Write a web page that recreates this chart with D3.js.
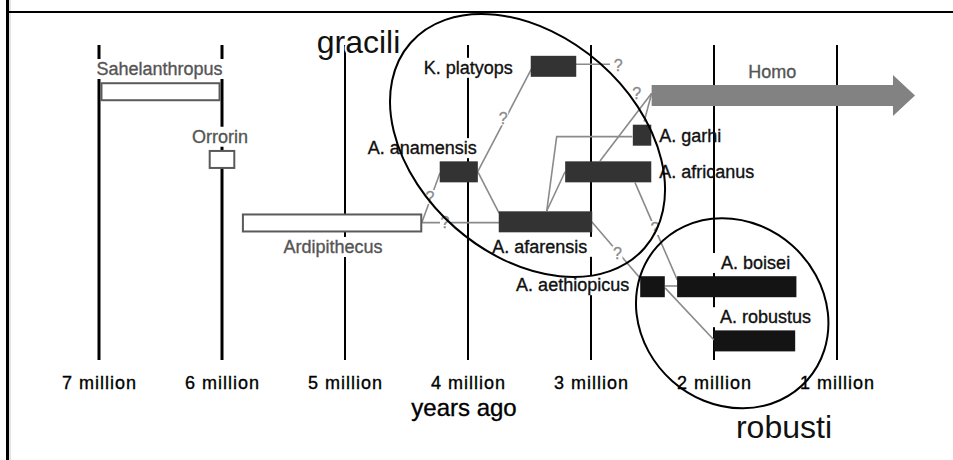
<!DOCTYPE html>
<html>
<head>
<meta charset="utf-8">
<script src="https://cdn.jsdelivr.net/npm/d3@7"></script>
<style>
  body { margin: 0; background: #fff; }
  svg { display: block; }
  text { font-family: "Liberation Sans", Arial, sans-serif; }
</style>
</head>
<body>
<svg id="chart" width="953" height="460"></svg>
<script>
// ---------------- DATA ----------------
// time axis (millions of years ago)
const tickAges   = [7, 6, 5, 4, 3, 2, 1];
const tickLabels = ["7 million", "6 million", "5 million", "4 million", "3 million", "2 million", "1 million"];
const axisTitle  = "years ago";

// taxa: oldest and youngest appearance (Ma) and the chart row they sit in
const taxonNames = ["Sahelanthropus", "Orrorin", "Ardipithecus", "K. platyops", "A. anamensis",
                    "A. afarensis", "A. garhi", "A. africanus", "A. aethiopicus", "A. boisei", "A. robustus"];
const taxonFirst = [6.98, 6.10, 5.83, 3.49, 4.23, 3.75, 2.66, 3.21, 2.60, 2.30, 2.00];
const taxonLast  = [6.02, 5.90, 4.38, 3.12, 3.92, 2.99, 2.51, 2.51, 2.40, 1.33, 1.34];
const taxonRow   = [4.45, 10.90, 16.95, 2.03, 12.08, 16.84, 8.59, 12.08, 23.02, 23.02, 28.18];
const taxonKind  = ["early", "early", "early", "gracile", "gracile", "gracile", "gracile", "gracile",
                    "robust", "robust", "robust"];

// Homo: start (Ma), arrow continues toward the present
const homoName  = "Homo";
const homoFirst = 2.507;
const homoShaftEnd = 0.545;
const homoTip   = 0.366;
const homoRow   = 4.81;

// proposed ancestor-descendant links, as [age, row] points
const lineageLinks = [
  [[4.376, 16.92], [4.228, 12.19]],                 // Ardipithecus -> A. anamensis
  [[4.376, 16.92], [3.746, 16.92]],                 // Ardipithecus -> A. afarensis
  [[3.921, 12.07], [3.482, 2.22]],                  // A. anamensis -> K. platyops
  [[3.921, 12.07], [3.746, 16.03]],                 // A. anamensis -> A. afarensis
  [[3.124, 1.84],  [2.846, 1.84]],                  // K. platyops -> ?
  [[3.360, 15.81], [3.279, 8.73], [2.664, 8.73]],   // A. afarensis -> A. garhi
  [[3.360, 15.81], [3.211, 12.07]],                 // A. afarensis -> A. africanus
  [[2.927, 11.05], [2.507, 4.60]],                  // A. africanus -> Homo
  [[2.568, 7.30],  [2.507, 4.60]],                  // A. garhi -> Homo
  [[2.642, 13.11], [2.298, 22.38]],                 // A. africanus -> A. boisei
  [[2.994, 16.83], [2.602, 22.19]],                 // A. afarensis -> A. aethiopicus
  [[2.398, 22.95], [2.298, 22.95]],                 // A. aethiopicus -> A. boisei
  [[2.398, 23.13], [2.000, 28.10]]                  // A. aethiopicus -> A. robustus
];
// uncertain links marked with "?"
const queryMarks = [[4.309, 14.48], [4.187, 16.83], [3.713, 6.98], [2.778, 1.90],
                    [2.628, 4.60], [2.480, 17.43], [2.785, 19.81]];

// groupings
const groupNames     = ["gracili", "robusti"];
const groupCenterAge = [3.516, 1.852];
const groupCenterRow = [9.57, 25.55];
const groupLabelAge  = [4.890, 1.431];
const groupLabelRow  = [0.79, 37.43];

// ---------------- LAYOUT / STYLE ----------------
const W = 953, H = 460;
const x = d3.scaleLinear().domain([7, 1]).range([99, 837]);
const y = d3.scaleLinear().domain([0, 30]).range([45, 360]);

const groupShape = [
  { rx: 155.6, ry: 109.5, angle: 41.2 },
  { rx: 100.5, ry: 90.5,  angle: 41.6 }
];
const kindStyle = {
  early:   { fill: "#ffffff", stroke: "#5a5a5a", sw: 2, h: 17, label: "#555555" },
  gracile: { fill: "#333333", stroke: "none",    sw: 0, h: 21, label: "#111111" },
  robust:  { fill: "#141414", stroke: "none",    sw: 0, h: 21, label: "#111111" }
};
const labelLayout = {
  "Sahelanthropus": { side: "above", align: "middle", dx: -1, bg: true },
  "Orrorin":        { side: "above", align: "middle", dx: -2, bg: true },
  "Ardipithecus":   { side: "below", align: "middle", dx: 1,  bg: true },
  "K. platyops":    { side: "left",  dx: -18, dy: 1, bg: true },
  "A. anamensis":   { side: "above", align: "end", dx: -1, bg: true },
  "A. afarensis":   { side: "below", align: "end", dx: -5, bg: true },
  "A. garhi":       { side: "right", dx: 8, bg: false },
  "A. africanus":   { side: "right", dx: 8, bg: false },
  "A. aethiopicus": { side: "left",  dx: -11, dy: -2, bg: true },
  "A. boisei":      { side: "above", align: "start", dx: 44, bg: true },
  "A. robustus":    { side: "above", align: "start", dx: 6, bg: true }
};
const FS = 18;
const TEXT_WEIGHT = 0.35;   // thin same-colour stroke to mimic the crisp bitmap type
const linkColor = "#8a8a8a";

const svg = d3.select("#chart");
svg.append("rect").attr("width", W).attr("height", H).attr("fill", "#fff");

// frame
svg.append("line").attr("x1", 7.5).attr("x2", 7.5).attr("y1", 0).attr("y2", H)
  .attr("stroke", "#000").attr("stroke-width", 3);
svg.append("line").attr("x1", 10).attr("x2", 10).attr("y1", 0).attr("y2", H)
  .attr("stroke", "#c8c8c8").attr("stroke-width", 1);
svg.append("line").attr("x1", 6).attr("x2", W).attr("y1", 12).attr("y2", 12)
  .attr("stroke", "#000").attr("stroke-width", 2);

// grid lines
const gGrid = svg.append("g");
gGrid.selectAll("line").data(tickAges).join("line")
  .attr("x1", d => x(d)).attr("x2", d => x(d))
  .attr("y1", y(0)).attr("y2", y(30))
  .attr("stroke", "#000")
  .attr("stroke-width", d => d >= 6 ? 3 : 2);

// axis labels
const axis = d3.axisBottom(x).tickValues(tickAges)
  .tickFormat((d, i) => tickLabels[i]).tickSize(0).tickPadding(0);
const gAxis = svg.append("g").attr("transform", `translate(0,${y(30) + 16})`).call(axis);
gAxis.select(".domain").remove();
gAxis.selectAll("text")
  .attr("font-family", "'Liberation Sans', Arial, sans-serif")
  .attr("font-size", FS).attr("fill", "#000").attr("letter-spacing", 1)
  .attr("stroke", "#000").attr("stroke-width", TEXT_WEIGHT);

svg.append("text").attr("x", x(4) - 4).attr("y", 416)
  .attr("text-anchor", "middle").attr("font-size", 24).attr("fill", "#000")
  .attr("stroke", "#000").attr("stroke-width", TEXT_WEIGHT)
  .text(axisTitle);

// taxa data table
const taxa = taxonNames.map((n, i) => ({
  name: n, first: taxonFirst[i], last: taxonLast[i], row: taxonRow[i], kind: taxonKind[i]
}));

// labels (background boxes first, then text)
const gLabelBg = svg.append("g");
const gLabel = svg.append("g");
taxa.forEach(t => {
  const L = labelLayout[t.name];
  const st = kindStyle[t.kind];
  const x0 = x(t.first), x1 = x(t.last), cy = y(t.row);
  const half = (st.h + st.sw) / 2;
  let tx, ty, anchor;
  if (L.side === "above" || L.side === "below") {
    anchor = L.align;
    tx = (anchor === "middle" ? (x0 + x1) / 2 : anchor === "end" ? x1 : x0) + (L.dx || 0);
    ty = L.side === "above" ? cy - half - 7.2 : cy + half + 20.5;
  } else if (L.side === "left") {
    anchor = "end"; tx = x0 + L.dx; ty = cy + 6.5 + (L.dy || 0);
  } else {
    anchor = "start"; tx = x1 + L.dx; ty = cy + 6.5 + (L.dy || 0);
  }
  const txt = gLabel.append("text").attr("x", tx).attr("y", ty)
    .attr("text-anchor", anchor).attr("font-size", FS).attr("fill", st.label)
    .attr("stroke", st.label).attr("stroke-width", TEXT_WEIGHT).text(t.name);
  if (L.bg) {
    const b = txt.node().getBBox();
    gLabelBg.append("rect").attr("x", b.x - 9).attr("y", b.y).attr("width", b.width + 18)
      .attr("height", b.height).attr("fill", "#fff");
  }
});

// Homo label
const homoMid = (x(homoFirst) + x(homoShaftEnd)) / 2;
gLabel.append("text").attr("x", homoMid).attr("y", y(homoRow) - 10.5 - 7.3)
  .attr("text-anchor", "middle").attr("font-size", FS).attr("fill", "#555")
  .attr("stroke", "#555").attr("stroke-width", TEXT_WEIGHT).text(homoName);

// lineage links
const line = d3.line().x(d => x(d[0])).y(d => y(d[1]));
svg.append("g").selectAll("path").data(lineageLinks).join("path")
  .attr("d", line).attr("fill", "none").attr("stroke", linkColor).attr("stroke-width", 1.6);

// bars
svg.append("g").selectAll("rect").data(taxa).join("rect")
  .attr("x", d => x(d.first)).attr("width", d => x(d.last) - x(d.first))
  .attr("y", d => y(d.row) - kindStyle[d.kind].h / 2)
  .attr("height", d => kindStyle[d.kind].h)
  .attr("fill", d => kindStyle[d.kind].fill)
  .attr("stroke", d => kindStyle[d.kind].stroke)
  .attr("stroke-width", d => kindStyle[d.kind].sw);

// Homo arrow
const hy = y(homoRow);
const arrowPts = [
  [x(homoFirst), hy - 10.5], [x(homoShaftEnd), hy - 10.5], [x(homoShaftEnd), hy - 20.5],
  [x(homoTip), hy], [x(homoShaftEnd), hy + 20.5], [x(homoShaftEnd), hy + 10.5],
  [x(homoFirst), hy + 10.5]
];
svg.append("path").attr("d", "M" + arrowPts.map(p => p.join(",")).join("L") + "Z")
  .attr("fill", "#828282");

// question marks
const gQ = svg.append("g");
queryMarks.forEach(q => {
  const qx = x(q[0]), qy = y(q[1]);
  gQ.append("rect").attr("x", qx - 5).attr("y", qy - 7).attr("width", 10).attr("height", 14)
    .attr("fill", "#fff");
  gQ.append("text").attr("x", qx).attr("y", qy + 6).attr("text-anchor", "middle")
    .attr("font-size", 16).attr("fill", linkColor)
    .attr("stroke", linkColor).attr("stroke-width", 0.3).text("?");
});

// group outlines
groupNames.forEach((g, i) => {
  const cx = x(groupCenterAge[i]), cy = y(groupCenterRow[i]);
  const s = groupShape[i];
  svg.append("ellipse").attr("cx", cx).attr("cy", cy).attr("rx", s.rx).attr("ry", s.ry)
    .attr("transform", `rotate(${s.angle},${cx},${cy})`)
    .attr("fill", "none").attr("stroke", "#000").attr("stroke-width", 2);
  svg.append("text").attr("x", x(groupLabelAge[i])).attr("y", y(groupLabelRow[i]))
    .attr("text-anchor", "middle").attr("font-size", 32).attr("fill", "#111")
    .attr("stroke", i === 0 ? "#fff" : "none").attr("stroke-width", 4)
    .attr("paint-order", "stroke")
    .text(g);
});
</script>
</body>
</html>
